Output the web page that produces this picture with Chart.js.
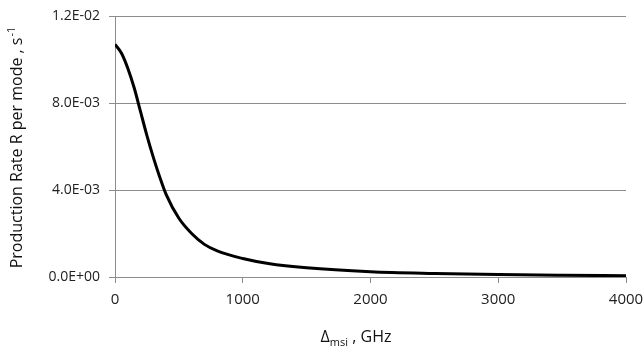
<!DOCTYPE html>
<html>
<head>
<meta charset="utf-8">
<script src="https://cdn.jsdelivr.net/npm/chart.js@4"></script>
<style>
  html, body { margin: 0; padding: 0; background: #fff; }
  #wrap { width: 644px; height: 355px; }
</style>
</head>
<body>
<div id="wrap"><canvas id="rateChart" width="644" height="355"></canvas></div>
<script>
// detuning in GHz and production rate per mode in 1/s
const detuning = [0, 50, 100, 150, 200, 250, 300, 350, 400, 500, 600, 700, 800, 1000, 1200, 1500, 2000, 2500, 3000, 3500, 4000];
const rate = [0.0107, 0.0103, 0.0096, 0.0087, 0.0076, 0.0065, 0.0055, 0.0046, 0.0038, 0.0027, 0.0020, 0.0015, 0.0012, 0.00085, 0.00062, 0.00042, 0.00024, 0.00016, 0.00011, 0.00008, 0.00006];
const yTicks = [0, 0.004, 0.008, 0.012];
const xTicks = [0, 1000, 2000, 3000, 4000];

const FONT = '"Open Sans", sans-serif';

// Excel style 0.0E+00 labels
function sciLabel(v) {
  if (Math.abs(v) < 1e-12) return '0.0E+00';
  let exp = Math.floor(Math.log10(Math.abs(v)) + 1e-9);
  let man = (v / Math.pow(10, exp)).toFixed(1);
  let sign = exp < 0 ? '-' : '+';
  let e = String(Math.abs(exp)).padStart(2, '0');
  return man + 'E' + sign + e;
}

// axis titles with super/subscripts drawn by hand
const titlePlugin = {
  id: 'axisTitles',
  afterDraw(chart) {
    const ctx = chart.ctx;
    ctx.save();
    ctx.fillStyle = '#111';
    ctx.textBaseline = 'alphabetic';
    ctx.textAlign = 'left';

    // y title
    const main = 'Production Rate R per mode , s';
    const sup = '-1';
    ctx.font = '16px ' + FONT;
    const wMain = ctx.measureText(main).width;
    ctx.font = '11px ' + FONT;
    const wSup = ctx.measureText(sup).width;
    const total = wMain + wSup;
    ctx.translate(22, 148);
    ctx.rotate(-Math.PI / 2);
    ctx.font = '16px ' + FONT;
    ctx.fillText(main, -total / 2, 0);
    ctx.font = '11px ' + FONT;
    ctx.fillText(sup, -total / 2 + wMain + 1, -7);
    ctx.setTransform(1, 0, 0, 1, 0, 0);

    // x title
    const parts = [['\u0394', '16px', 0], ['msi', '11px', 4], [' , GHz', '16px', 0]];
    let w = 0;
    parts.forEach(p => { ctx.font = p[1] + ' ' + FONT; w += ctx.measureText(p[0]).width; });
    let x = 356 - w / 2;
    parts.forEach(p => {
      ctx.font = p[1] + ' ' + FONT;
      ctx.fillText(p[0], x, 342 + p[2]);
      x += ctx.measureText(p[0]).width;
    });
    ctx.restore();
  }
};

new Chart(document.getElementById('rateChart'), {
  type: 'line',
  data: {
    datasets: [{
      data: detuning.map((d, i) => ({ x: d, y: rate[i] })),
      borderColor: '#000',
      borderWidth: 3,
      pointRadius: 0,
      fill: false,
      cubicInterpolationMode: 'monotone'
    }]
  },
  options: {
    responsive: false,
    animation: false,
    layout: { padding: { left: 0, right: 18, top: 16, bottom: 0 } },
    plugins: { legend: { display: false }, tooltip: { enabled: false } },
    scales: {
      x: {
        type: 'linear',
        min: 0,
        max: 4000,
        afterBuildTicks(scale) { scale.ticks = xTicks.map(v => ({ value: v })); },
        afterFit(scale) {
          scale.height = 78;
          scale.paddingLeft = 0;
          scale.paddingRight = 0;
        },
        grid: { drawOnChartArea: false, color: '#8c8c8c', tickLength: 6 },
        border: { color: '#8c8c8c', width: 1 },
        ticks: { color: '#222', font: { family: FONT, size: 15 }, padding: 8, maxRotation: 0, callback: v => String(v) }
      },
      y: {
        min: 0,
        max: 0.012,
        afterBuildTicks(scale) { scale.ticks = yTicks.map(v => ({ value: v })); },
        afterFit(scale) {
          scale.width = 115;
          scale.paddingTop = 0;
          scale.paddingBottom = 0;
        },
        grid: { color: '#8c8c8c', tickLength: 6 },
        border: { color: '#8c8c8c', width: 1 },
        ticks: { color: '#222', font: { family: FONT, size: 14 }, padding: 9, callback: v => sciLabel(v) }
      }
    }
  },
  plugins: [titlePlugin]
});
</script>
</body>
</html>
